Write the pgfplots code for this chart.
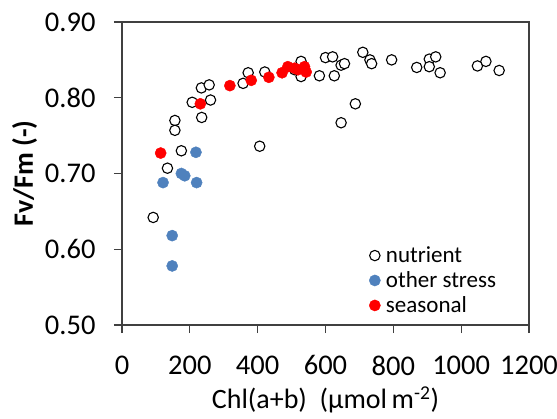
\documentclass[border=0pt]{standalone}
\usepackage{pgfplots}
\pgfplotsset{compat=1.18}
\usepackage{fontspec}
\setmainfont{Carlito}
\definecolor{stressblue}{HTML}{4F81BD}
\begin{document}
\begin{tikzpicture}
\useasboundingbox (-122pt,-93pt) rectangle (435pt,325pt);
\begin{axis}[
  at={(0pt,0pt)}, anchor=south west,
  scale only axis, width=407pt, height=303pt,
  xmin=0, xmax=1200, ymin=0.5, ymax=0.9,
  xtick={0,200,...,1200}, ytick={0.5,0.6,0.7,0.8,0.9},
  tick align=outside, xtick pos=bottom, ytick pos=left,
  major tick length=8pt,
  axis line style={black!75, line width=1.1pt},
  every tick/.style={black!75, line width=1.1pt},
  /pgf/number format/assume math mode=true,
  tick label style={font=\fontsize{28.5}{31}\selectfont},
  xticklabel style={yshift=-19pt, /pgf/number format/.cd, fixed, set thousands separator={}},
  yticklabel style={xshift=-15pt, /pgf/number format/.cd, fixed, fixed zerofill, precision=2},
  label style={font=\fontsize{28}{31}\selectfont},
  xlabel style={yshift=-5pt},
  ylabel style={yshift=1pt},
  xlabel={Chl(a+b)\ \ (µmol\,m\textsuperscript{-2})},
  ylabel={\textbf{Fv/Fm (-)}},
  legend style={draw=none, fill=none, font=\fontsize{23}{26}\selectfont,
    at={(0.607,0.265)}, anchor=north west, row sep=3.5pt, inner sep=0pt,
    nodes={inner xsep=5.5pt}},
  legend cell align=left,
]
\addplot[only marks, mark=*, mark size=5.2pt, mark options={draw=black, fill=white, line width=1.1pt}]
coordinates {
(134,0.707) (175,0.730) (156,0.770) (156,0.757) (207,0.794) (234,0.813)
(257,0.817) (261,0.797) (235,0.774) (357,0.819) (372,0.833) (421,0.834)
(406,0.736) (509,0.837) (528,0.848) (528,0.828) (582,0.829) (600,0.853)
(621,0.854) (626,0.829) (646,0.843) (656,0.845) (646,0.767) (688,0.792)
(710,0.860) (731,0.850) (736,0.845) (795,0.850) (869,0.840) (906,0.851)
(906,0.841) (925,0.854) (938,0.833) (1048,0.842) (1073,0.848) (1112,0.836)
(92,0.642)
};
\addlegendentry{nutrient}
\addplot[only marks, mark=*, mark size=5.6pt, color=stressblue]
coordinates {
(121,0.688) (175,0.700) (185,0.697) (218,0.728) (220,0.688)
(148,0.618) (148,0.578)
};
\addlegendentry{other stress}
\addplot[only marks, mark=*, mark size=5.6pt, color=red]
coordinates {
(114,0.727) (231,0.792) (318,0.816) (381,0.823) (433,0.827) (472,0.833)
(489,0.841) (509,0.839) (519,0.837) (538,0.841) (543,0.834)
};
\addlegendentry{seasonal}
\end{axis}
\end{tikzpicture}
\end{document}
